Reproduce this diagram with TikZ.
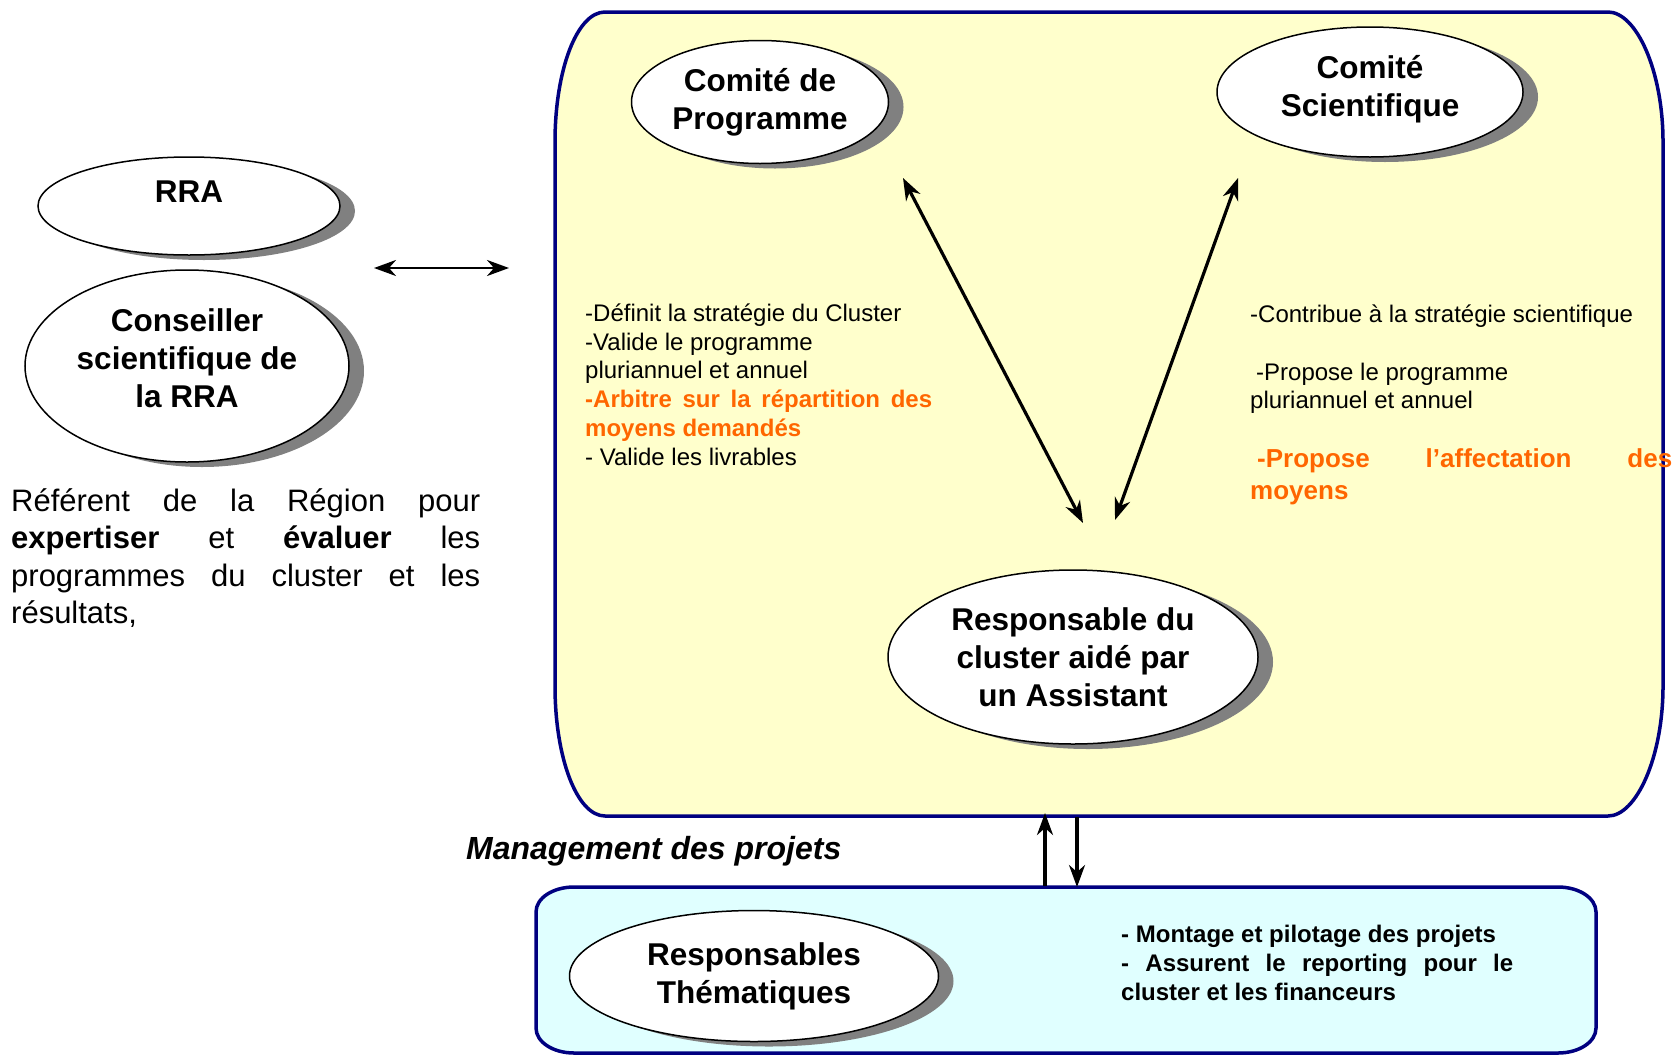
\documentclass[tikz,border=0pt]{standalone}
\usepackage{fontspec}
\setmainfont{Liberation Sans}
\usetikzlibrary{shapes.geometric,shadows,arrows.meta}

\definecolor{jaunepale}{HTML}{FFFFCC}
\definecolor{cyanpale}{HTML}{E0FFFF}
\definecolor{bleucadre}{HTML}{000080}
\definecolor{orangetxt}{HTML}{FF6600}

\tikzset{
  bulle/.style={ellipse, draw=black, line width=1.5pt, fill=white, inner sep=0pt, align=center,
    font=\fontsize{31.5}{38}\selectfont\bfseries,
    drop shadow={shadow xshift=15pt, shadow yshift=-5pt, fill=gray, opacity=1}},
  cadre/.style={draw=bleucadre, line width=3.5pt},
  fleche/.style={line width=3.2pt, >={Stealth[length=22pt,width=16pt,inset=7pt]}},
  texte/.style={anchor=base west, inner sep=0pt, align=left},
}

\begin{document}
\begin{tikzpicture}[x=1pt, y=-1pt]
    \path[use as bounding box, fill=white] (0,0) rectangle (1677,1055);

    % cadre du cluster
    \draw[cadre, fill=jaunepale] (605,12) -- (1608,12)
        .. controls (1636,12) and (1663,70) .. (1663,142) -- (1663,686)
        .. controls (1663,758) and (1636,816) .. (1608,816) -- (605,816)
        .. controls (577,816) and (555,758) .. (555,686) -- (555,142)
        .. controls (555,70) and (577,12) .. cycle;

    % cadre des projets
    \draw[cadre, fill=cyanpale] (574,887) -- (1558,887)
        .. controls (1579,887) and (1596,898) .. (1596,912) -- (1596,1028)
        .. controls (1596,1042) and (1579,1053) .. (1558,1053) -- (574,1053)
        .. controls (553,1053) and (536,1042) .. (536,1028) -- (536,912)
        .. controls (536,898) and (553,887) .. cycle;

    % Région
    \node[bulle, minimum width=302pt, minimum height=98pt, text depth=28pt] (rra) at (189,206) {RRA};
    \node[bulle, minimum width=324pt, minimum height=192pt, text depth=15pt] (conseiller) at (187,366) {Conseiller\\scientifique de\\la RRA};
    \node[anchor=base west, inner sep=0pt, text width=469pt, align=justify,
        font=\fontsize{31}{37.5}\selectfont] (referent) at (11,511)
        {Référent de la Région pour\linebreak \textbf{expertiser} et \textbf{évaluer} les\linebreak programmes du cluster et les\linebreak résultats,};

    % comités et responsable
    \node[bulle, minimum width=257pt, minimum height=123pt] (cdp) at (760,102) {Comité de\\Programme};
    \node[bulle, minimum width=306pt, minimum height=130pt, text depth=13pt] (cs) at (1370,92) {Comité\\Scientifique};
    \node[bulle, minimum width=370pt, minimum height=174pt] (resp) at (1073,657) {Responsable du\\cluster aidé par\\un Assistant};
    \node[bulle, minimum width=369pt, minimum height=131pt] (themes) at (754,976) {Responsables\\Thématiques};

    % rôles (ancrés sur la dernière ligne)
    \node[texte, font=\fontsize{24}{28.7}\selectfont] (cdp-roles) at (585,465)
        {-Définit la stratégie du Cluster\\-Valide le programme\\pluriannuel et annuel\\
        {\color{orangetxt}\bfseries\makebox[347pt][s]{-Arbitre sur la répartition des}}\\
        {\color{orangetxt}\bfseries moyens demandés}\\- Valide les livrables};
    \node[texte, font=\fontsize{24}{28}\selectfont] (cs-roles) at (1250,408)
        {-Contribue à la stratégie scientifique\\[30pt]\hspace*{6pt}-Propose le programme\\pluriannuel et annuel};
    \node[texte, font=\fontsize{26}{32}\selectfont\bfseries, text=orangetxt] (cs-moyens) at (1250,499)
        {\hspace*{7pt}\makebox[415pt][s]{-Propose l’affectation des}\\moyens};
    \node[texte, font=\fontsize{24}{29}\selectfont\bfseries] (themes-roles) at (1121,1000)
        {- Montage et pilotage des projets\\\makebox[392pt][s]{- Assurent le reporting pour le}\\cluster et les financeurs};
    \node[texte, font=\fontsize{32}{37}\selectfont\bfseries\itshape] (management) at (466,859) {Management des projets};

    % flèches
    \coordinate (rra-d) at (374,268);
    \coordinate (cadre-g) at (509,268);
    \coordinate (cdp-b) at (903,178);
    \coordinate (resp-g) at (1083,523);
    \coordinate (cs-b) at (1238,178);
    \coordinate (resp-d) at (1115,520);
    \coordinate (monte-bas) at (1045,886);
    \coordinate (monte-haut) at (1045,813);
    \coordinate (descend-haut) at (1077,817);
    \coordinate (descend-bas) at (1077,887);
    \draw[fleche, line width=2.6pt, <->] (rra-d) -- (cadre-g);
    \draw[fleche, <->] (cdp-b) -- (resp-g);
    \draw[fleche, <->] (cs-b) -- (resp-d);
    \draw[fleche, ->] (monte-bas) -- (monte-haut);
    \draw[fleche, ->] (descend-haut) -- (descend-bas);
\end{tikzpicture}
\end{document}
